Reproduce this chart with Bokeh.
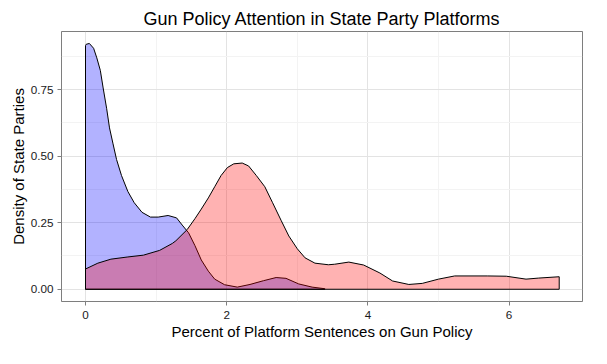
from bokeh.plotting import figure
from bokeh.models import FixedTicker, NumeralTickFormatter, Range1d, BoxAnnotation
from bokeh.embed import file_html
from bokeh.resources import INLINE

# Democratic (blue) density curve
blue_x = [0.0, 0.01, 0.055, 0.115, 0.16, 0.21, 0.25, 0.30, 0.34, 0.39, 0.44, 0.51, 0.60, 0.69,
          0.80, 0.92, 1.03, 1.17, 1.29, 1.37, 1.46, 1.55, 1.64, 1.74, 1.83, 1.97, 2.15, 2.33,
          2.52, 2.70, 2.84, 3.02, 3.21, 3.39]
blue_y = [0.915, 0.920, 0.923, 0.905, 0.869, 0.822, 0.756, 0.678, 0.606, 0.546, 0.487, 0.427,
          0.367, 0.325, 0.289, 0.271, 0.271, 0.277, 0.268, 0.241, 0.212, 0.164, 0.110, 0.068,
          0.038, 0.017, 0.008, 0.018, 0.032, 0.044, 0.041, 0.020, 0.008, 0.002]

# Republican (red) density curve
red_x = [0.0, 0.175, 0.36, 0.59, 0.82, 1.05, 1.23, 1.28, 1.44, 1.55, 1.64, 1.74, 1.83, 1.92,
         2.01, 2.10, 2.22, 2.31, 2.42, 2.54, 2.65, 2.77, 2.88, 3.00, 3.11, 3.25, 3.44, 3.53,
         3.73, 3.94, 4.17, 4.35, 4.58, 4.77, 5.00, 5.23, 5.69, 5.96, 6.24, 6.42, 6.71]
red_y = [0.076, 0.098, 0.113, 0.121, 0.128, 0.146, 0.172, 0.182, 0.224, 0.265, 0.301, 0.343,
         0.385, 0.427, 0.457, 0.471, 0.474, 0.463, 0.427, 0.385, 0.325, 0.259, 0.200, 0.152,
         0.118, 0.098, 0.092, 0.094, 0.102, 0.091, 0.061, 0.031, 0.018, 0.022, 0.038, 0.050,
         0.050, 0.049, 0.038, 0.042, 0.047]

x_ticks = [0, 2, 4, 6]
x_minor = [1, 3, 5]
y_ticks = [0.0, 0.25, 0.50, 0.75]
y_minor = [0.125, 0.375, 0.625, 0.875]

FONT = "Liberation Sans"

p = figure(width=591, height=348, output_backend="svg", toolbar_location=None,
           x_range=Range1d(-0.34, 7.04), y_range=Range1d(-0.046, 0.968),
           min_border_left=61, min_border_top=31, min_border_right=9, min_border_bottom=47)

p.title.text = "Gun Policy Attention in State Party Platforms"
p.title.align = "center"
p.title.text_font = FONT
p.title.text_font_size = "18px"
p.title.text_font_style = "normal"
p.title.text_color = "#000000"
p.title.standoff = 5
p.title.offset = 0

p.background_fill_color = "white"
p.border_fill_color = "white"
p.outline_line_color = "#7f7f7f"
p.outline_line_width = 1

# Density areas: blue first, red on top
p.patch([blue_x[0]] + blue_x + [blue_x[-1]], [0] + blue_y + [0],
        fill_color="blue", fill_alpha=0.3, line_color="black", line_width=1)
p.patch([red_x[0]] + red_x + [red_x[-1]], [0] + red_y + [0],
        fill_color="red", fill_alpha=0.3, line_color="black", line_width=1)

# panel border (covers the whole frame)
p.add_layout(BoxAnnotation(fill_alpha=0, fill_color=None, line_color="#7f7f7f",
                           line_width=1, line_alpha=1, level="overlay"))

p.xaxis.ticker = FixedTicker(ticks=x_ticks, minor_ticks=x_minor)
p.yaxis.ticker = FixedTicker(ticks=y_ticks, minor_ticks=y_minor)
p.yaxis.formatter = NumeralTickFormatter(format="0.00")

for ax in (p.xaxis[0], p.yaxis[0]):
    ax.axis_line_color = None
    ax.minor_tick_line_color = None
    ax.major_tick_line_color = "#7f7f7f"
    ax.major_tick_out = 4
    ax.major_tick_in = 0
    ax.major_label_text_font = FONT
    ax.major_label_text_font_size = "11.7px"
    ax.major_label_text_color = "#1a1a1a"
    ax.axis_label_text_font = FONT
    ax.axis_label_text_font_size = "15px"
    ax.axis_label_text_font_style = "normal"
    ax.axis_label_text_color = "#000000"

p.xaxis.major_label_standoff = 5
p.xaxis.axis_label_standoff = 1
p.yaxis.major_label_standoff = 4
p.yaxis.axis_label_standoff = 1

p.xaxis.axis_label = "Percent of Platform Sentences on Gun Policy"
p.yaxis.axis_label = "Density of State Parties"

p.xgrid.grid_line_color = "#e3e3e3"
p.ygrid.grid_line_color = "#e3e3e3"
p.xgrid.minor_grid_line_color = "#f3f3f3"
p.ygrid.minor_grid_line_color = "#f3f3f3"

open("out.html", "w").write(file_html(p, INLINE))
